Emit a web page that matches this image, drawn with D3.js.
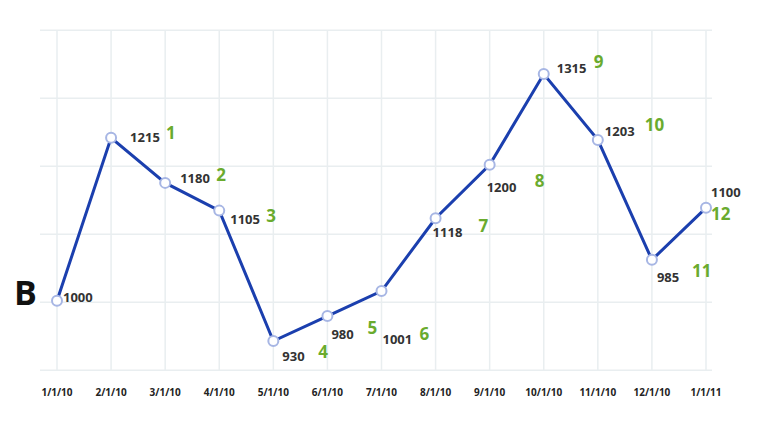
<!DOCTYPE html>
<html><head><meta charset="utf-8">
<script src="https://cdn.jsdelivr.net/npm/d3@7"></script>
<style>body{margin:0;background:#fff}text{font-family:"Open Sans",sans-serif}</style>
</head><body><div id="chart"></div>
<script>
// data
const dates = ["1/1/10","2/1/10","3/1/10","4/1/10","5/1/10","6/1/10","7/1/10","8/1/10","9/1/10","10/1/10","11/1/10","12/1/10","1/1/11"];
const values = [1000,1215,1180,1105,930,980,1001,1118,1200,1315,1203,985,1100];
// heights the points are drawn at in the picture (not exactly proportional to the labels)
const levels = [988,1223,1158,1118,930,966,1002,1107,1184,1315,1220,1047,1122];
const ranks = ["",1,2,3,4,5,6,7,8,9,10,11,12];
const gridValues = [888,986,1084,1182,1280,1378];

// label placement (value label dx,dy ; rank label dx,dy) relative to the point
const labelPos = [
  [6,-4,0,0],[19,-1,55,-5],[15,-5,51,-8],[11,8,47,5],[9,15,45,11],[4,18,40,12],
  [1,48,38,43],[-3,14,43,8],[-3,22,45,16],[13,-6,50,-12],[7,-9,47,-15],[5,17,40,11],[5,-16,5,6]
];

const W = 768, H = 434;
const svg = d3.select("#chart").append("svg").attr("width", W).attr("height", H);

const x = d3.scalePoint().domain(dates).range([57, 706]);
const y = d3.scaleLinear().domain([930, 1315]).range([341, 74]);

// grid
svg.selectAll(".hg").data(gridValues).enter().append("line")
  .attr("x1", 40).attr("x2", 712)
  .attr("y1", d => y(d)).attr("y2", d => y(d))
  .attr("stroke", "#e9eef0").attr("stroke-width", 1.5);
svg.selectAll(".vg").data(dates).enter().append("line")
  .attr("x1", d => x(d)).attr("x2", d => x(d))
  .attr("y1", y(1378)).attr("y2", y(888))
  .attr("stroke", "#e9eef0").attr("stroke-width", 1.5);

// x labels
svg.selectAll(".xl").data(dates).enter().append("text")
  .attr("x", d => x(d)).attr("y", 396).attr("text-anchor", "middle")
  .attr("font-size", 10).attr("font-weight", 700).attr("fill", "#222")
  .text(d => d);

// line
svg.append("path").datum(levels)
  .attr("d", d3.line().x((d, i) => x(dates[i])).y(d => y(d)))
  .attr("fill", "none").attr("stroke", "#1b3fae").attr("stroke-width", 3);

svg.selectAll(".pt").data(levels).enter().append("circle")
  .attr("cx", (d, i) => x(dates[i])).attr("cy", d => y(d)).attr("r", 5)
  .attr("fill", "#fff").attr("stroke", "#a7b6e4").attr("stroke-width", 2);

// value labels
svg.selectAll(".vl").data(values).enter().append("text")
  .attr("x", (d, i) => x(dates[i]) + labelPos[i][0])
  .attr("y", (d, i) => y(levels[i]) + labelPos[i][1] + 5)
  .attr("font-size", 13).attr("font-weight", 700).attr("fill", "#333")
  .text(d => d);

// rank labels
svg.selectAll(".rl").data(ranks).enter().append("text")
  .attr("x", (d, i) => x(dates[i]) + labelPos[i][2])
  .attr("y", (d, i) => y(levels[i]) + labelPos[i][3] + 6)
  .attr("font-size", 17).attr("font-weight", 700).attr("fill", "#6aab2e")
  .text(d => d);

svg.append("text").attr("x", 14).attr("y", 305)
  .attr("font-size", 34).attr("font-weight", 700).attr("fill", "#111").text("B");
</script></body></html>
